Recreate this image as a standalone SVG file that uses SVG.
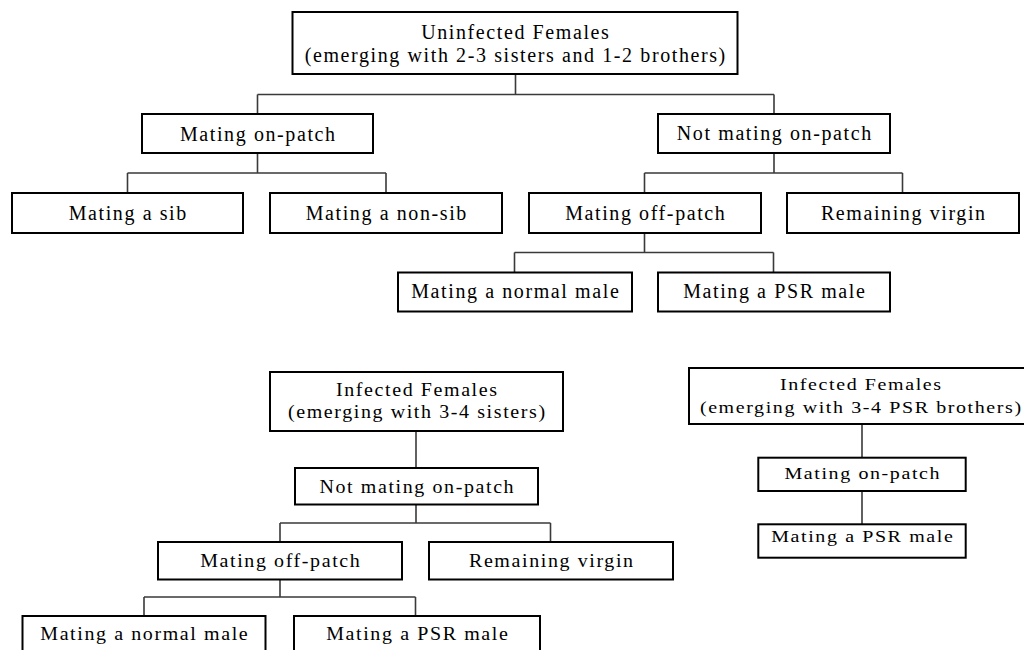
<svg xmlns="http://www.w3.org/2000/svg" width="1024" height="650" viewBox="0 0 1024 650">
<style>
.box{fill:#fff;stroke:#000;stroke-width:2}
.t{font-family:"Liberation Serif","Times New Roman",serif;font-size:20px;letter-spacing:1.6px;text-anchor:middle;fill:#000}
.conn{stroke:#3a3a3a;stroke-width:1.6;fill:none}
</style>
<rect width="1024" height="650" fill="#fff"/>
<g id="connectors" class="conn">
<path d="M515.5,74V94.5 M257.5,94.5H774 M257.5,94.5V114 M774,94.5V114"/>
<path d="M257.5,153V173 M127.5,173H386 M127.5,173V193 M386,173V193"/>
<path d="M774,153V173 M644.5,173H902.5 M644.5,173V193 M902.5,173V193"/>
<path d="M644.5,233V252.5 M514.5,252.5H773.5 M514.5,252.5V272.5 M773.5,252.5V272.5"/>
<path d="M416,431V468"/>
<path d="M416,504.5V523 M280,523H550.5 M280,523V542 M550.5,523V542"/>
<path d="M280,579.5V597 M144,597H415.5 M144,597V616 M415.5,597V616"/>
<path d="M862,424V457.7 M862,491V524.3"/>
</g>
<g id="n1"><rect class="box" x="292.5" y="12" width="445" height="62"/>
<text class="t" x="515.8" y="39.3">Uninfected Females</text>
<text class="t" x="515.8" y="61.7">(emerging with 2-3 sisters and 1-2 brothers)</text></g>
<g id="n2"><rect class="box" x="142" y="114" width="231" height="39"/><text class="t" x="258.3" y="140.7">Mating on-patch</text></g>
<g id="n3"><rect class="box" x="658" y="114" width="232" height="39"/><text class="t" x="774.8" y="140.3">Not mating on-patch</text></g>
<g id="n4"><rect class="box" x="12" y="193" width="231" height="40"/><text class="t" x="128.3" y="219.5">Mating a sib</text></g>
<g id="n5"><rect class="box" x="270" y="193" width="232" height="40"/><text class="t" x="386.8" y="219.5">Mating a non-sib</text></g>
<g id="n6"><rect class="box" x="529" y="193" width="232" height="40"/><text class="t" x="645.8" y="219.5">Mating off-patch</text></g>
<g id="n7"><rect class="box" x="787" y="193" width="232" height="40"/><text class="t" x="903.8" y="219.5">Remaining virgin</text></g>
<g id="n8"><rect class="box" x="398" y="272.5" width="234" height="39"/><text class="t" x="515.8" y="298.3">Mating a normal male</text></g>
<g id="n9"><rect class="box" x="658" y="272.5" width="232" height="39"/><text class="t" x="774.8" y="298.3">Mating a PSR male</text></g>
<g id="n10"><rect class="box" x="270" y="372" width="293" height="59"/>
<text class="t" transform="translate(417.3,396) scale(1,0.93)">Infected Females</text>
<text class="t" transform="translate(417.3,418.3) scale(1,0.93)">(emerging with 3-4 sisters)</text></g>
<g id="n11"><rect class="box" x="295" y="468" width="243" height="36.5"/><text class="t" transform="translate(417.3,492.7) scale(1,0.93)">Not mating on-patch</text></g>
<g id="n12"><rect class="box" x="158" y="542" width="244" height="37.5"/><text class="t" transform="translate(280.8,566.7) scale(1,0.93)">Mating off-patch</text></g>
<g id="n13"><rect class="box" x="429" y="542" width="244" height="37.5"/><text class="t" transform="translate(551.8,566.7) scale(1,0.93)">Remaining virgin</text></g>
<g id="n14"><rect class="box" x="22.5" y="616" width="243" height="44"/><text class="t" transform="translate(144.8,640) scale(1,0.93)">Mating a normal male</text></g>
<g id="n15"><rect class="box" x="294" y="616" width="246" height="44"/><text class="t" transform="translate(417.8,640) scale(1,0.93)">Mating a PSR male</text></g>
<g id="n16"><rect class="box" x="689" y="368" width="345" height="56"/>
<text class="t" transform="translate(861.3,390) scale(1,0.81)">Infected Females</text>
<text class="t" transform="translate(861.3,413) scale(1,0.81)">(emerging with 3-4 PSR brothers)</text></g>
<g id="n17"><rect class="box" x="758.3" y="457.7" width="207.4" height="33.3"/><text class="t" transform="translate(862.8,479) scale(1,0.81)">Mating on-patch</text></g>
<g id="n18"><rect class="box" x="758.3" y="524.3" width="207.4" height="33.4"/><text class="t" transform="translate(862.8,541.7) scale(1,0.81)">Mating a PSR male</text></g>
</svg>
